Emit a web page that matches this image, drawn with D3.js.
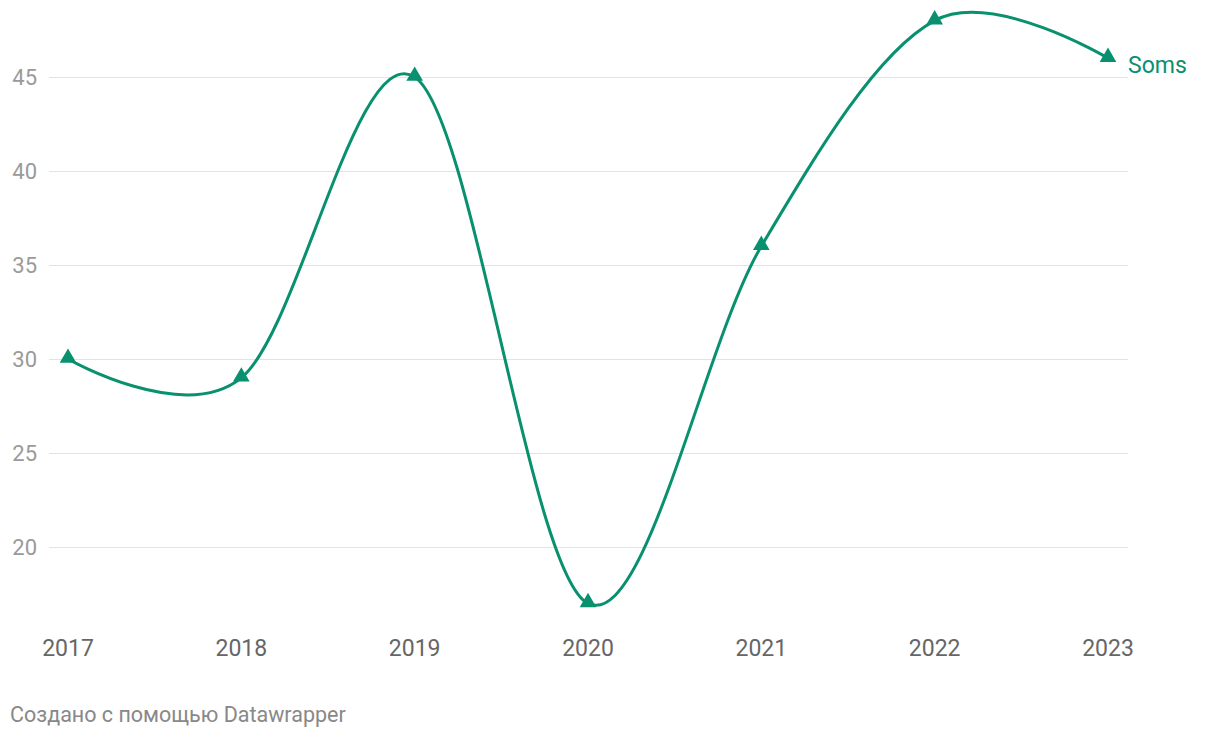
<!DOCTYPE html>
<html>
<head>
<meta charset="utf-8">
<script src="https://cdn.jsdelivr.net/npm/d3@7"></script>
<style>
  html, body { margin: 0; padding: 0; background: #fff; }
  svg { display: block; font-family: Roboto, "Noto Sans", sans-serif; }
</style>
</head>
<body>
<svg id="chart" width="1220" height="738"></svg>
<script>
const years = [2017, 2018, 2019, 2020, 2021, 2022, 2023];
const soms = [30, 29, 45, 17, 36, 48, 46];
const yTicks = [20, 25, 30, 35, 40, 45];
const seriesName = "Soms";
const footer = "Создано с помощью Datawrapper";

const color = "#09906f";
const svg = d3.select("#chart");

const x = d3.scaleLinear().domain([2017, 2023]).range([68, 1108]);
const y = d3.scaleLinear().domain([30, 45]).range([359, 77]);

// gridlines
svg.append("g").selectAll("line").data(yTicks).join("line")
  .attr("x1", 49).attr("x2", 1128)
  .attr("y1", d => Math.round(y(d)) + 0.5).attr("y2", d => Math.round(y(d)) + 0.5)
  .attr("stroke", "#e3e3e3").attr("stroke-width", 1);

// y labels
svg.append("g").selectAll("text").data(yTicks).join("text")
  .attr("x", 37).attr("y", d => y(d))
  .attr("dy", "0.35em")
  .attr("text-anchor", "end")
  .attr("font-size", 22)
  .attr("fill", "#9a9a9a")
  .text(d => d);

// x labels
svg.append("g").selectAll("text").data(years).join("text")
  .attr("x", d => x(d)).attr("y", 656)
  .attr("text-anchor", "middle")
  .attr("font-size", 23)
  .attr("fill", "#666")
  .text(d => d);

const data = years.map((yr, i) => ({ yr, v: soms[i] }));

const line = d3.line()
  .x(d => x(d.yr)).y(d => y(d.v))
  .curve(d3.curveCardinal.tension(0));

svg.append("path").datum(data)
  .attr("d", line)
  .attr("fill", "none")
  .attr("stroke", color)
  .attr("stroke-width", 3)
  .attr("stroke-linejoin", "round")
  .attr("stroke-linecap", "round");

const tri = d3.symbol().type(d3.symbolTriangle).size(120);
svg.append("g").selectAll("path").data(data).join("path")
  .attr("d", tri)
  .attr("transform", d => `translate(${x(d.yr)},${y(d.v) - 1})`)
  .attr("fill", color);

svg.append("text")
  .attr("x", x(2023) + 20).attr("y", y(soms[soms.length - 1]) + 7)
  .attr("dy", "0.35em")
  .attr("font-size", 23)
  .attr("fill", color)
  .text(seriesName);

svg.append("text")
  .attr("x", 10).attr("y", 722)
  .attr("font-size", 21.5)
  .attr("fill", "#888")
  .text(footer);
</script>
</body>
</html>
